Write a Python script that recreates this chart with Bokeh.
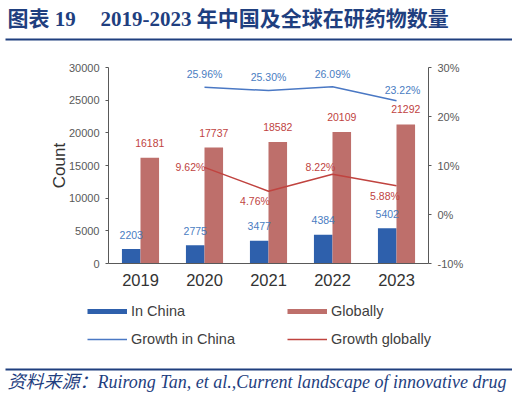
from bokeh.core.properties import value
from bokeh.embed import file_html
from bokeh.layouts import column
from bokeh.models import (ColumnDataSource, FactorRange, Legend, LegendItem,
                          LinearAxis, PrintfTickFormatter, Range1d)
from bokeh.plotting import figure
from bokeh.resources import INLINE
from bokeh.transform import dodge

# data
years = ["2019", "2020", "2021", "2022", "2023"]
in_china = [2203, 2775, 3477, 4384, 5402]
globally = [16181, 17737, 18582, 20109, 21292]
growth_years = ["2020", "2021", "2022", "2023"]
growth_china = [25.96, 25.30, 26.09, 23.22]
growth_global = [9.62, 4.76, 8.22, 5.88]
count_ticks = [0, 5000, 10000, 15000, 20000, 25000, 30000]
pct_ticks = [-10, 0, 10, 20, 30]

TITLE_NO = "图表 19"
TITLE = "2019-2023 年中国及全球在研药物数量"
SOURCE = "资料来源：Ruirong Tan, et al.,Current landscape of innovative drug"

BLUE_BAR = "#2E60AC"
RED_BAR = "#BE6F6B"
BLUE_LINE = "#4A78C4"
RED_LINE = "#C0433F"
BLUE_TXT = "#4A7DC2"
RED_TXT = "#C0433F"
NAVY = "#1F3F7F"
GRAY = "#595959"
SANS = "Liberation Sans"
SERIF = "'Liberation Serif', 'Noto Sans CJK SC'"
W = 512

# screen nudges for the growth labels
cn_dx = [0, 0, 0, 6]
cn_dy = [-13, -14, -13, -11]
gl_dx = [-14, -13.5, -12, -11.5]
gl_dy = [0, 10, -7, 10]


def band(height):
    f = figure(width=W, height=height, x_range=Range1d(0, W),
               y_range=Range1d(height, 0), output_backend="svg",
               toolbar_location=None, min_border=0,
               x_axis_type=None, y_axis_type=None)
    f.outline_line_color = None
    f.frame_align = False
    return f


# header
head = band(54)
head.text(x=[7, 100], y=[18, 18], text=[TITLE_NO, TITLE],
          text_font=value(SERIF), text_font_style="bold",
          text_font_size="21px", text_color=NAVY, text_baseline="middle")
head.segment(x0=[5], y0=[39], x1=[512], y1=[39], line_width=2, line_color=NAVY)

# main chart
p = figure(width=W, height=243, x_range=FactorRange(*years),
           y_range=Range1d(0, 30000), output_backend="svg",
           toolbar_location=None, min_border_left=108, min_border_right=84,
           min_border_top=13, min_border_bottom=34)
p.frame_align = False
p.extra_y_ranges = {"pct": Range1d(-10, 30)}
p.outline_line_color = None
p.grid.visible = False

xa = p.xaxis[0]
xa.axis_line_color = GRAY
xa.major_tick_line_color = None
xa.major_tick_out = 0
xa.major_label_standoff = 10
xa.major_label_text_font = SANS
xa.major_label_text_font_size = "16.5px"
xa.major_label_text_color = "#333333"

ya = p.yaxis[0]
ya.ticker = count_ticks
ya.axis_line_color = GRAY
ya.major_tick_line_color = GRAY
ya.minor_tick_line_color = None
ya.major_tick_in = 0
ya.major_tick_out = 3
ya.major_label_standoff = 6
ya.major_label_text_font = SANS
ya.major_label_text_font_size = "11px"
ya.major_label_text_color = GRAY
ya.axis_label = "Count"
ya.axis_label_standoff = -3
ya.axis_label_text_font = SANS
ya.axis_label_text_font_style = "normal"
ya.axis_label_text_font_size = "17px"
ya.axis_label_text_color = "#333333"

ra = LinearAxis(y_range_name="pct", ticker=pct_ticks,
                formatter=PrintfTickFormatter(format="%d%%"))
ra.axis_line_color = GRAY
ra.major_tick_line_color = GRAY
ra.minor_tick_line_color = None
ra.major_tick_in = 0
ra.major_tick_out = 3
ra.major_label_standoff = 6
ra.major_label_text_font = SANS
ra.major_label_text_font_size = "11px"
ra.major_label_text_color = GRAY
p.add_layout(ra, "right")

bars = ColumnDataSource(dict(year=years, china=in_china, glob=globally,
                             china_txt=[str(v) for v in in_china],
                             glob_txt=[str(v) for v in globally]))
p.vbar(x=dodge("year", -0.145, range=p.x_range), top="china", width=0.29,
       source=bars, fill_color=BLUE_BAR, line_color=None)
p.vbar(x=dodge("year", 0.145, range=p.x_range), top="glob", width=0.29,
       source=bars, fill_color=RED_BAR, line_color=None)
p.text(x=dodge("year", -0.145, range=p.x_range), y="china", text="china_txt",
       source=bars, y_offset=-14.5, text_align="center", text_baseline="middle",
       text_font=value(SANS), text_font_size="10.5px", text_color=BLUE_TXT)
p.text(x=dodge("year", 0.145, range=p.x_range), y="glob", text="glob_txt",
       source=bars, y_offset=-15, text_align="center", text_baseline="middle",
       text_font=value(SANS), text_font_size="10.5px", text_color=RED_TXT)

growth = ColumnDataSource(dict(
    year=growth_years, cn=growth_china, gl=growth_global,
    cn_txt=["%.2f%%" % v for v in growth_china],
    gl_txt=["%.2f%%" % v for v in growth_global],
    cn_dx=cn_dx, cn_dy=cn_dy, gl_dx=gl_dx, gl_dy=gl_dy))
p.line(x="year", y="cn", source=growth, y_range_name="pct",
       line_color=BLUE_LINE, line_width=1.5)
p.line(x="year", y="gl", source=growth, y_range_name="pct",
       line_color=RED_LINE, line_width=1.5)
p.text(x="year", y="cn", text="cn_txt", source=growth, y_range_name="pct",
       x_offset="cn_dx", y_offset="cn_dy", text_align="center",
       text_baseline="middle", text_font=value(SANS),
       text_font_size="10.5px", text_color=BLUE_TXT)
p.text(x="year", y="gl", text="gl_txt", source=growth, y_range_name="pct",
       x_offset="gl_dx", y_offset="gl_dy", text_align="center",
       text_baseline="middle", text_font=value(SANS),
       text_font_size="10.5px", text_color=RED_TXT)

# legend strip (own frame so nothing is clipped); swatch renderers sit off-canvas
leg = band(60)
off_x, off_y = [-50, -40], [-50, -50]
sw_cn = leg.line(x=off_x, y=off_y, line_width=5, line_color=BLUE_BAR)
sw_gl = leg.line(x=off_x, y=off_y, line_width=5, line_color=RED_BAR)
ln_cn = leg.line(x=off_x, y=off_y, line_width=1.5, line_color=BLUE_LINE)
ln_gl = leg.line(x=off_x, y=off_y, line_width=1.5, line_color=RED_LINE)
legend = Legend(items=[LegendItem(label="In China", renderers=[sw_cn]),
                       LegendItem(label="Globally", renderers=[sw_gl]),
                       LegendItem(label="Growth in China", renderers=[ln_cn]),
                       LegendItem(label="Growth globally", renderers=[ln_gl])],
                location=(87, 7), orientation="horizontal", ncols=2,
                padding=0, margin=0, spacing=6, border_line_color=None,
                background_fill_alpha=0, glyph_width=40, glyph_height=22,
                label_height=22, label_width=150, label_standoff=4,
                label_text_font=SANS, label_text_font_size="14.5px",
                label_text_color="#404040")
leg.add_layout(legend)

# footer
foot = band(37)
foot.segment(x0=[5], y0=[12], x1=[512], y1=[12], line_width=2, line_color=NAVY)
foot.text(x=[7], y=[24], text=[SOURCE], text_font=value(SERIF),
          text_font_style="italic", text_font_size="18px", text_color=NAVY,
          text_baseline="middle")

layout = column(head, p, leg, foot)
open("out.html", "w").write(file_html(layout, INLINE))
